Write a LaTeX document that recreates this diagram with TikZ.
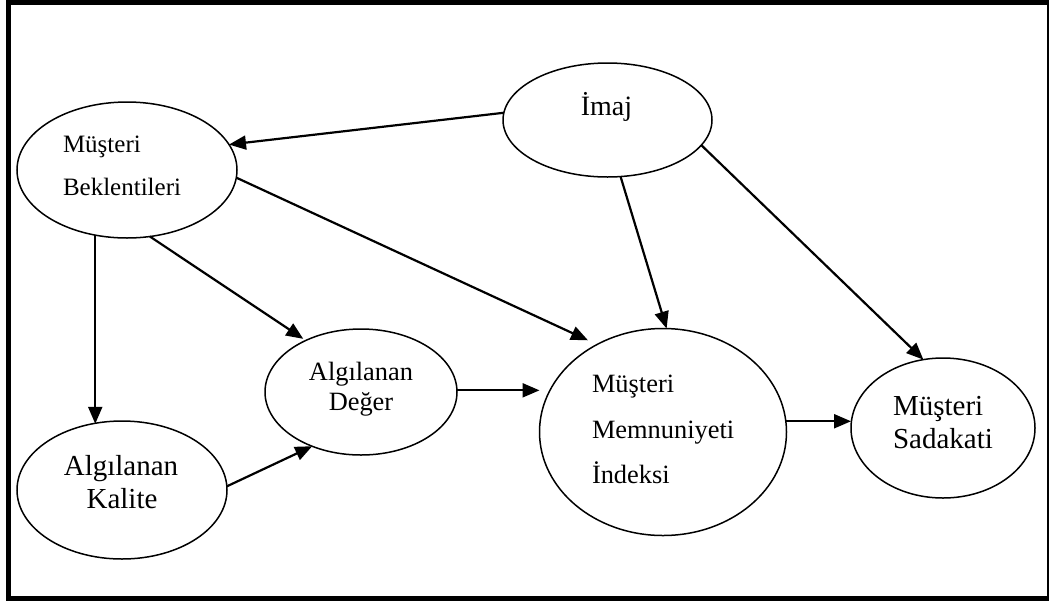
\documentclass[tikz,border=0pt]{standalone}
\usepackage{fontspec}
\setmainfont{Liberation Serif}
\usetikzlibrary{shapes.geometric,arrows.meta}

\begin{document}
\begin{tikzpicture}[x=1pt,y=-1pt,
  oval/.style={ellipse, draw, line width=1.5pt, inner sep=0pt, outer sep=0pt},
  link/.style={line width=2.2pt, -{Triangle[length=17pt,width=14pt]}},
  txt/.style={inner sep=0pt, outer sep=0pt},
  fa/.style={font=\fontsize{25}{30}\selectfont},
  fb/.style={font=\fontsize{26.4}{30}\selectfont},
  fc/.style={font=\fontsize{28}{32}\selectfont},
  fd/.style={font=\fontsize{29}{34}\selectfont},
]
\useasboundingbox (0,0) rectangle (1049,606);
\fill[white] (0,0) rectangle (1049,606);
% outer frame
\draw[line width=5pt] (8.5,2.5) rectangle (1049.5,598);

% constructs
\node[oval, minimum width=220pt, minimum height=136pt] (bek)    at (127,170)   {};
\node[oval, minimum width=209pt, minimum height=114pt] (imaj)   at (607.5,120) {};
\node[oval, minimum width=192pt, minimum height=126pt] (deger)  at (361,392)   {};
\node[oval, minimum width=247pt, minimum height=207pt] (memnun) at (663,432)   {};
\node[oval, minimum width=184pt, minimum height=140pt] (sadak)  at (943,428)   {};
\node[oval, minimum width=210pt, minimum height=138pt] (kalite) at (122,490)   {};

% labels
\node[txt, fa, anchor=base west] (bek1) at (63,152) {Müşteri};
\node[txt, fa, anchor=base west] (bek2) at (63,195) {Beklentileri};
\node[txt, fc, anchor=base] (imaj1) at (606.5,115) {İmaj};
\node[txt, fb, anchor=base] (deg1) at (361,380) {Algılanan};
\node[txt, fb, anchor=base] (deg2) at (361,410) {Değer};
\node[txt, fb, anchor=base west] (mem1) at (592,392) {Müşteri};
\node[txt, fb, anchor=base west] (mem2) at (592,438) {Memnuniyeti};
\node[txt, fb, anchor=base west] (mem3) at (592,483) {İndeksi};
\node[txt, fd, anchor=base west] (sad1) at (893,415) {Müşteri};
\node[txt, fd, anchor=base west] (sad2) at (893,448) {Sadakati};
\node[txt, fd, anchor=base] (kal1) at (121,475) {Algılanan};
\node[txt, fd, anchor=base] (kal2) at (122,508) {Kalite};

% paths
\draw[link] (imaj.176) -- (bek.14.7);
\draw[link, shorten >=10pt] (bek.-4) -- (memnun.127.5);
\draw[link] (bek.244) -- (bek.244 |- kalite.114);
\draw[link, shorten >=3pt] (bek.-71.6) -- (deger.137.5);
\draw[link] (imaj.-77.6) -- (memnun.88);
\draw[link] (imaj.-15.1) -- (sadak.106.7);
\draw[link] (deger.1.2) -- (deger.1.2 -| memnun.west);
\draw[link] (kalite.2.7) -- (deger.228.9);
\draw[link] (memnun.5) -- (memnun.5 -| sadak.west);
\end{tikzpicture}
\end{document}
